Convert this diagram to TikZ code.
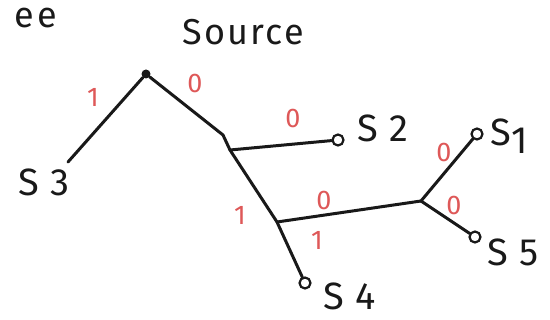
\documentclass[tikz,border=0pt]{standalone}
\usepackage{fontspec}
\usepackage{xcolor}
\setmainfont{Fira Sans}
\usetikzlibrary{positioning}
\definecolor{BitRed}{RGB}{222,88,88}
\definecolor{PenBlack}{RGB}{25,25,25}

\begin{document}
\begin{tikzpicture}[x=1pt,y=-1pt,
  edge/.style={draw=PenBlack, line width=3pt, line cap=round, line join=round},
  leaf/.style={circle, draw=PenBlack, line width=2.2pt, inner sep=0pt, minimum size=11pt},
  bit/.style={text=BitRed, font=\fontsize{27}{27}\selectfont},
  sym/.style={text=PenBlack, font=\fontsize{38}{38}\selectfont\addfontfeature{LetterSpace=30}}]
\useasboundingbox (0,0) rectangle (550,320);
% title and inner points
\node[sym, anchor=east, inner sep=1pt, font=\fontsize{36}{36}\selectfont\addfontfeature{LetterSpace=8}] (title) at (58,18) {ee};
\node[sym, font=\fontsize{36}{36}\selectfont\addfontfeature{LetterSpace=6}] (source) at (243,32) {Source};
\node[circle, fill=PenBlack, inner sep=0pt, minimum size=9pt] (root) at (146,74) {};
\coordinate (bend) at (223,135);
\coordinate (ja) at (230,150);
\coordinate (jb) at (277,222);
\coordinate (jc) at (421,201);
\coordinate (s3end) at (68,162);
% leaves
\node[leaf] (s2) at (338,140) {};
\node[leaf] (s4) at (305,283) {};
\node[leaf] (s1) at (477,134) {};
\node[leaf] (s5) at (475,237) {};
\node[sym] (s3lbl) at (44,182) {S3};
\node[sym, anchor=west] (s2lbl) at (354,128) {S2};
\node[sym, anchor=west] (s4lbl) at (320,296) {S4};
\node[sym, anchor=west] (s1lbl) at (487,136) {S\raisebox{-8pt}{1}};
\node[sym, anchor=west] (s5lbl) at (484,252) {S5};
% branches
\draw[edge] (root) -- (s3end);
\draw[edge] (root) -- (bend) -- (ja) -- (jb) -- (s4);
\draw[edge] (ja) -- (s2);
\draw[edge] (jb) -- (jc);
\draw[edge] (jc) -- (s1);
\draw[edge] (jc) -- (s5);
% bits
\node[bit] (b1) at (93,97) {1};
\node[bit] (b2) at (195,83) {0};
\node[bit] (b3) at (293,118) {0};
\node[bit] (b4) at (240,215) {1};
\node[bit] (b5) at (324,200) {0};
\node[bit] (b6) at (317,240) {1};
\node[bit] (b7) at (444,152) {0};
\node[bit] (b8) at (454,205) {0};
\end{tikzpicture}
\end{document}
